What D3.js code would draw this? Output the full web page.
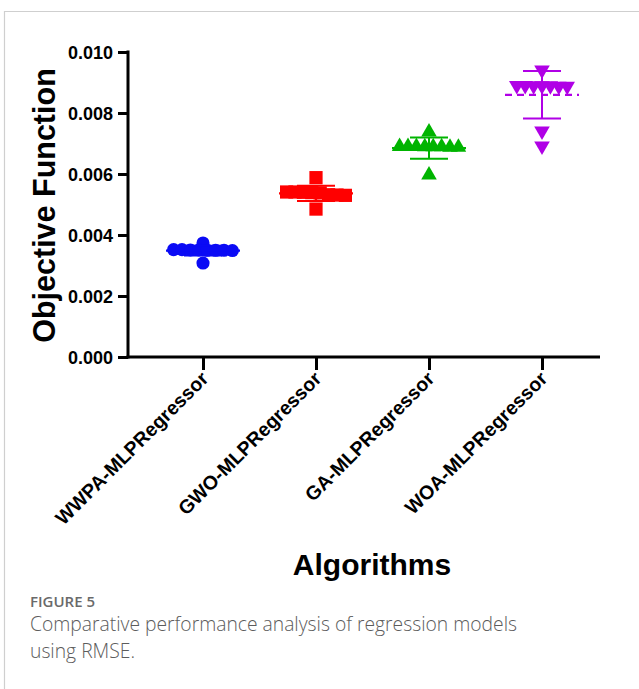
<!DOCTYPE html>
<html>
<head>
<meta charset="utf-8">
<script src="https://cdn.jsdelivr.net/npm/d3@7"></script>
<style>
  html, body { margin: 0; padding: 0; background: #fff; }
  svg { display: block; }
</style>
</head>
<body>
<svg id="chart" width="639" height="689"></svg>
<script>
// values (10 runs per algorithm)
const algorithms = ['WWPA-MLPRegressor', 'GWO-MLPRegressor', 'GA-MLPRegressor', 'WOA-MLPRegressor'];
const wwpaValues = [0.00350, 0.00352, 0.00351, 0.00349, 0.00374, 0.00350, 0.00351, 0.00352, 0.00350, 0.00308];
const gwoValues  = [0.00541, 0.00540, 0.00538, 0.00588, 0.00532, 0.00530, 0.00531, 0.00539, 0.00541, 0.00485];
const gaValues   = [0.00689, 0.00690, 0.00688, 0.00689, 0.00738, 0.00690, 0.00689, 0.00688, 0.00690, 0.00597];
const woaValues  = [0.00889, 0.00890, 0.00888, 0.00889, 0.00941, 0.00890, 0.00889, 0.00888, 0.00741, 0.00692];
const yTicks = [0, 0.002, 0.004, 0.006, 0.008, 0.010];

const groups = [
    {name: algorithms[0], values: wwpaValues, color: '#0a0af5', shape: 'circle', dashed: false},
    {name: algorithms[1], values: gwoValues,  color: '#ff0000', shape: 'square', dashed: false},
    {name: algorithms[2], values: gaValues,   color: '#00b400', shape: 'up', dashed: false},
    {name: algorithms[3], values: woaValues,  color: '#b000e6', shape: 'down', dashed: true},
];

const svg = d3.select('#chart');
const axisLeftX = 128, axisRightX = 600;
const font = 'Liberation Sans, Arial, sans-serif';

// thin frame of the figure panel
svg.append('path')
    .attr('d', 'M4.5,689V11.5H639')
    .attr('fill', 'none').attr('stroke', '#cfcfcf').attr('stroke-width', 1.2);

const y = d3.scaleLinear().domain([0, 0.010]).range([357, 52]);
const x = d3.scalePoint().domain(algorithms).range([203, 542]);

// y axis
const yAxis = svg.append('g')
    .attr('transform', `translate(${axisLeftX},0)`)
    .call(d3.axisLeft(y).tickValues(yTicks).tickFormat(d3.format('.3f')).tickSize(10).tickPadding(5));
yAxis.select('.domain').remove();
yAxis.append('line').attr('x1', 0).attr('x2', 0).attr('y1', y(0.010) - 1.5).attr('y2', y(0) + 1.5);
yAxis.selectAll('line').attr('stroke', '#000').attr('stroke-width', 3);
yAxis.selectAll('text')
    .attr('fill', '#000').attr('font-family', font)
    .attr('font-weight', 'bold').attr('font-size', 18).attr('dy', '0.34em');

// x axis
const xAxis = svg.append('g')
    .attr('transform', `translate(0,${y(0)})`)
    .call(d3.axisBottom(x).tickSize(13).tickFormat(''));
xAxis.select('.domain').remove();
xAxis.append('line').attr('x1', axisLeftX - 1.5).attr('x2', axisRightX).attr('y1', 0).attr('y2', 0);
xAxis.selectAll('line').attr('stroke', '#000').attr('stroke-width', 3);
xAxis.selectAll('.tick').append('text')
    .attr('transform', 'translate(6,23) rotate(-45)')
    .attr('text-anchor', 'end')
    .attr('fill', '#000').attr('font-family', font)
    .attr('font-weight', 'bold').attr('font-size', 19.5)
    .text(d => d);

// axis titles
svg.append('text')
    .attr('transform', `translate(55,${(y(0) + y(0.010)) / 2 + 1}) rotate(-90)`)
    .attr('text-anchor', 'middle')
    .attr('font-family', font).attr('font-weight', 'bold').attr('font-size', 30.5)
    .text('Objective Function');
svg.append('text')
    .attr('x', 372).attr('y', 575)
    .attr('text-anchor', 'middle')
    .attr('font-family', font).attr('font-weight', 'bold').attr('font-size', 30)
    .text('Algorithms');

// spread points that share (nearly) the same value side by side
const spacing = 8.4, tolerance = 0.00015;
function swarm(values) {
    const sorted = values.map((v, i) => ({v, i})).sort((a, b) => b.v - a.v);
    const rows = [];
    sorted.forEach(p => {
        const row = rows[rows.length - 1];
        if (row && row[0].v - p.v < tolerance) row.push(p); else rows.push([p]);
    });
    const out = [];
    rows.forEach(row => row.forEach((p, k) => out.push({v: p.v, dx: (k - (row.length - 1) / 2) * spacing})));
    return out;
}

const symbols = {
    circle: d3.symbol(d3.symbolCircle, 135)(),
    square: d3.symbol(d3.symbolSquare, 175)(),
    up: d3.symbol(d3.symbolTriangle, 105)(),
    down: d3.symbol(d3.symbolTriangle, 105)(),
};

groups.forEach(g => {
    const cx = x(g.name);
    const mean = d3.mean(g.values), sd = d3.deviation(g.values);
    const grp = svg.append('g').attr('stroke', g.color).attr('fill', g.color);

    grp.selectAll('path.pt').data(swarm(g.values)).join('path')
        .attr('class', 'pt')
        .attr('stroke', 'none')
        .attr('d', symbols[g.shape])
        .attr('transform', d => `translate(${cx + d.dx},${y(d.v)})` + (g.shape === 'down' ? ' rotate(180)' : ''));

    // mean line and SD error bar
    grp.append('line')
        .attr('x1', cx - 37).attr('x2', cx + 37).attr('y1', y(mean)).attr('y2', y(mean))
        .attr('stroke-width', 2.2)
        .attr('stroke-dasharray', g.dashed ? '7,5' : null);
    grp.append('line')
        .attr('x1', cx).attr('x2', cx).attr('y1', y(mean - sd)).attr('y2', y(mean + sd))
        .attr('stroke-width', 2);
    [mean - sd, mean + sd].forEach(v => grp.append('line')
        .attr('x1', cx - 19).attr('x2', cx + 19).attr('y1', y(v)).attr('y2', y(v))
        .attr('stroke-width', 2));
});

// caption
svg.append('text')
    .attr('x', 30).attr('y', 607)
    .attr('font-family', 'Open Sans, Noto Sans, sans-serif').attr('font-size', 15).attr('font-weight', 600)
    .attr('fill', '#6a6a6a')
    .text('FIGURE 5');
const caption = svg.append('text')
    .attr('font-family', 'Open Sans, Noto Sans, sans-serif').attr('font-size', 19.3).attr('font-weight', 300)
    .attr('fill', '#5c5c5c');
caption.append('tspan').attr('x', 30).attr('y', 631).text('Comparative performance analysis of regression models');
caption.append('tspan').attr('x', 30).attr('y', 658).text('using RMSE.');
</script>
</body>
</html>
